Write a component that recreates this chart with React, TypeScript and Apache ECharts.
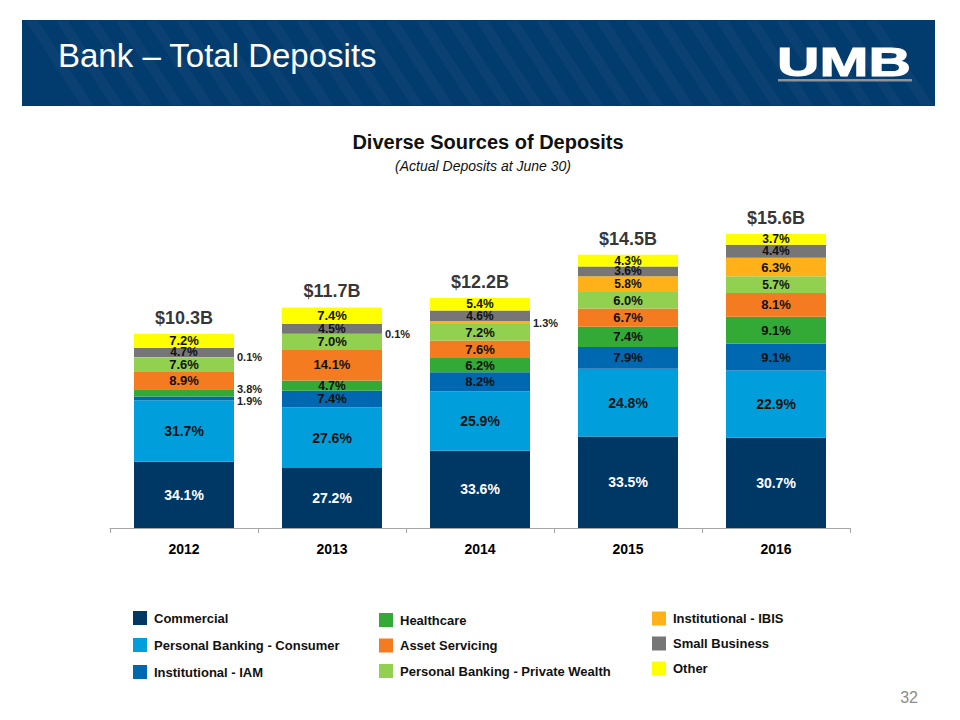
import React, { useEffect, useRef } from "react";
import * as echarts from "echarts";

const years = ["2012", "2013", "2014", "2015", "2016"];
const totals = [10.3, 11.7, 12.2, 14.5, 15.6];

const segmentNames = [
  "Commercial",
  "Personal Banking - Consumer",
  "Institutional - IAM",
  "Healthcare",
  "Asset Servicing",
  "Personal Banking - Private Wealth",
  "Institutional - IBIS",
  "Small Business",
  "Other",
];

const commercial = [34.1, 27.2, 33.6, 33.5, 30.7];
const consumer = [31.7, 27.6, 25.9, 24.8, 22.9];
const iam = [1.9, 7.4, 8.2, 7.9, 9.1];
const healthcare = [3.8, 4.7, 6.2, 7.4, 9.1];
const assetServicing = [8.9, 14.1, 7.6, 6.7, 8.1];
const privateWealth = [7.6, 7.0, 7.2, 6.0, 5.7];
const ibis = [0.1, 0.1, 1.3, 5.8, 6.3];
const smallBusiness = [4.7, 4.5, 4.6, 3.6, 4.4];
const other = [7.2, 7.4, 5.4, 4.3, 3.7];

const shares = [commercial, consumer, iam, healthcare, assetServicing, privateWealth, ibis, smallBusiness, other];

const colors = ["#003865", "#009FDB", "#0067B1", "#33A936", "#F47B20", "#92D050", "#FFB119", "#767676", "#FFFF00"];

const FONT = "'Liberation Sans', Arial, Helvetica, sans-serif";

export default function App() {
  const ref = useRef<HTMLDivElement>(null);

  useEffect(() => {
    if (!ref.current) return;
    const chart = echarts.init(ref.current, undefined, { renderer: "svg" });

    const barSeries = segmentNames.map((name, si) => ({
      name,
      type: "bar",
      stack: "total",
      barWidth: 100,
      itemStyle: { color: colors[si] },
      emphasis: { disabled: true },
      data: shares[si].map((pct, yi) => {
        const value = (totals[yi] * pct) / 100;
        const outside = value < 0.45;
        let offsetY = 0;
        if (outside && si === 3) offsetY = -4;
        if (outside && si === 2) offsetY = 3;
        const size = pct >= 20 ? 14 : pct >= 6 ? 13 : 12;
        return {
          value,
          label: outside
            ? {
                show: true,
                position: "right",
                distance: 3,
                offset: [0, offsetY],
                formatter: pct.toFixed(1) + "%",
                color: "#222",
                fontSize: 11,
                fontWeight: "bold",
                fontFamily: FONT,
              }
            : {
                show: true,
                position: "inside",
                formatter: pct.toFixed(1) + "%",
                color: si === 0 ? "#FFFFFF" : "#111111",
                fontSize: size,
                fontWeight: "bold",
                fontFamily: FONT,
              },
        };
      }),
    }));

    const stripes: any[] = [];
    for (let k = 0; k < 29; k++) {
      const x0 = 26 + k * 30;
      if (x0 + 67 > 934) break;
      stripes.push({
        type: "polygon",
        silent: true,
        shape: { points: [[x0, 21], [x0 + 12, 21], [x0 + 67, 105], [x0 + 55, 105]] },
        style: { fill: "rgba(255,255,255,0.035)" },
      });
    }

    const legendCommon = {
      orient: "vertical",
      icon: "rect",
      itemWidth: 14,
      itemHeight: 14,
      padding: 0,
      selectedMode: false,
      textStyle: { fontSize: 13, fontWeight: "bold", color: "#111", fontFamily: FONT, lineHeight: 14, padding: [0, 0, 0, 2] },
    };

    chart.setOption({
      animation: false,
      backgroundColor: "#FFFFFF",
      textStyle: { fontFamily: FONT },
      grid: { left: 110, width: 740, top: 226.4, bottom: 192 },
      xAxis: {
        type: "category",
        data: years,
        axisLine: { lineStyle: { color: "#A6A6A6", width: 1 } },
        axisTick: { show: true, length: 5, alignWithLabel: false, lineStyle: { color: "#A6A6A6" } },
        axisLabel: { margin: 14, fontSize: 14, fontWeight: "bold", color: "#000", fontFamily: FONT },
      },
      yAxis: { type: "value", min: 0, max: 16, show: false, splitLine: { show: false } },
      legend: [
        { ...legendCommon, left: 133, top: 611, itemGap: 13, data: segmentNames.slice(0, 3) },
        { ...legendCommon, left: 379, top: 613, itemGap: 11.5, data: segmentNames.slice(3, 6) },
        { ...legendCommon, left: 652, top: 611.5, itemGap: 11, data: segmentNames.slice(6, 9) },
      ],
      series: [
        ...barSeries,
        {
          name: "Total",
          type: "scatter",
          symbolSize: 0,
          silent: true,
          z: 10,
          data: totals,
          label: {
            show: true,
            position: "top",
            distance: 7,
            formatter: (p: any) => "$" + p.value.toFixed(1) + "B",
            fontSize: 18,
            fontWeight: "bold",
            color: "#000",
            fontFamily: FONT,
          },
        },
      ],
      graphic: [
        { type: "rect", silent: true, shape: { x: 22, y: 20, width: 913, height: 86 }, style: { fill: "#023B6D" } },
        ...stripes,
        {
          type: "text",
          silent: true,
          x: 58,
          y: 55,
          style: { text: "Bank – Total Deposits", fill: "#FFFFFF", fontSize: 33, fontFamily: FONT, textAlign: "left", textVerticalAlign: "middle" },
        },
        {
          type: "text",
          silent: true,
          x: 777,
          y: 62,
          scaleX: 1.47,
          style: { text: "UMB", fill: "#FFFFFF", fontSize: 40, fontWeight: "bold", fontFamily: FONT, textAlign: "left", textVerticalAlign: "middle", stroke: "#FFFFFF", lineWidth: 1 },
        },
        { type: "rect", silent: true, shape: { x: 778, y: 79, width: 134, height: 2.5 }, style: { fill: "#8E939B" } },
        {
          type: "text",
          silent: true,
          x: 488,
          y: 142,
          style: { text: "Diverse Sources of Deposits", fill: "#111", fontSize: 20, fontWeight: "bold", fontFamily: FONT, textAlign: "center", textVerticalAlign: "middle" },
        },
        {
          type: "text",
          silent: true,
          x: 483,
          y: 166,
          style: { text: "(Actual Deposits at June 30)", fill: "#111", fontSize: 14, fontStyle: "italic", fontFamily: FONT, textAlign: "center", textVerticalAlign: "middle" },
        },
        {
          type: "text",
          silent: true,
          x: 918,
          y: 697,
          style: { text: "32", fill: "#8C8C8C", fontSize: 16, fontFamily: FONT, textAlign: "right", textVerticalAlign: "middle" },
        },
      ],
    });

    return () => chart.dispose();
  }, []);

  return <div ref={ref} style={{ position: "absolute", left: 0, top: 0, width: 960, height: 720 }} />;
}
